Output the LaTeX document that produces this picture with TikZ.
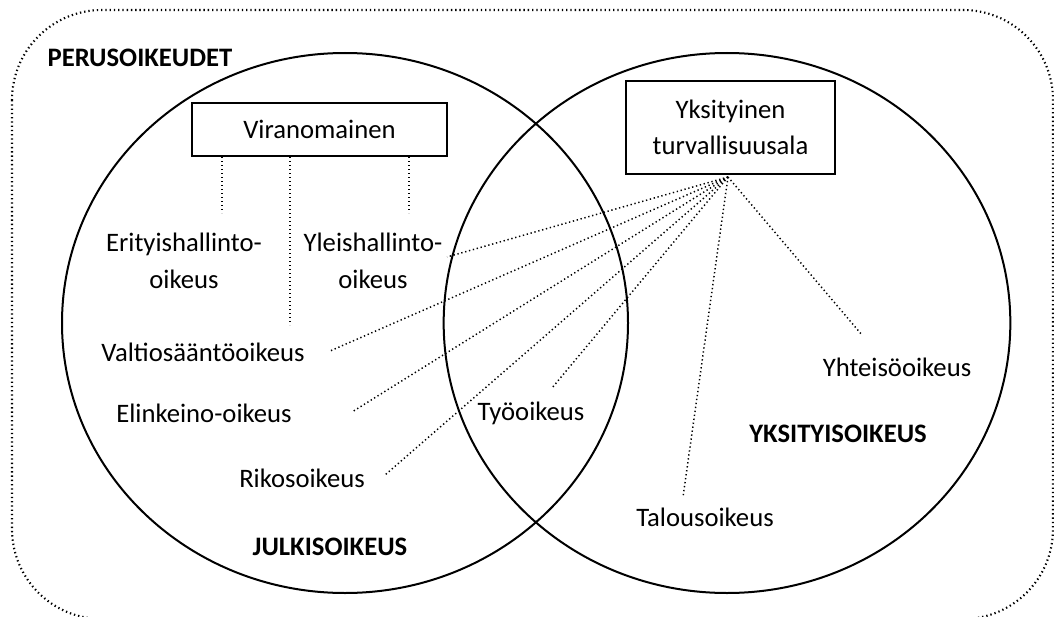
\documentclass[tikz,border=0pt]{standalone}
\usepackage{fontspec}
\setmainfont{Carlito}
\begin{document}
\begin{tikzpicture}[x=0.75pt,y=-0.75pt,
  every node/.style={font=\fontsize{20}{27.5}\selectfont, inner sep=0pt, align=center},
  heading/.style={font=\fontsize{20}{27.5}\selectfont\bfseries},
  areabox/.style={draw, line width=1.5pt},
  field/.style={line width=1.5pt},
  frame/.style={line width=1.6pt, dash pattern=on 1pt off 2.2pt, line cap=butt},
  tie/.style={line width=1.1pt, dash pattern=on 1pt off 2pt}]
\useasboundingbox (0,0) rectangle (1054,617);
\clip (0,0) rectangle (1054,617);

% outer frame of fundamental rights
\draw[frame, rounded corners=67.5pt] (12,10) rectangle (1053,619);

% the two fields of law
\draw[field] (345,323) ellipse [x radius=212.25pt, y radius=202.5pt];
\draw[field] (727,323) ellipse [x radius=212.5pt, y radius=202.5pt];

% headings
\node[heading] (perus) at (140,58) {PERUSOIKEUDET};
\node[heading] (julki) at (330,547) {JULKISOIKEUS};
\node[heading] (yksit) at (838,434) {YKSITYISOIKEUS};

% actors
\node[areabox, minimum width=191.25pt, minimum height=39.75pt] (viran) at (319.5,129.5) {Viranomainen};
\node[areabox, minimum width=156.75pt, minimum height=69.75pt] (turva) at (730.5,127.5) {Yksityinen\\turvallisuusala};

% branches of law
\node (erit) at (184,261) {Erityishallinto-\\oikeus};
\node (yleis) at (373,261) {Yleishallinto-\\oikeus};
\node (valtio) at (203,352) {Valtiosääntöoikeus};
\node (elink) at (204,413) {Elinkeino-oikeus};
\node (rikos) at (302,478) {Rikosoikeus};
\node (tyo) at (531,413) {Työoikeus};
\node (talous) at (705,517) {Talousoikeus};
\node (yhteis) at (897,367) {Yhteisöoikeus};

% links from the authority
\coordinate (v1) at (222,213);
\coordinate (v2) at (290,325);
\coordinate (v3) at (409,213);
\draw[tie] (v1 |- viran.south) -- (v1);
\draw[tie] (v2 |- viran.south) -- (v2);
\draw[tie] (v3 |- viran.south) -- (v3);

% links from the private security sector
\coordinate (fan) at (728,177);
\coordinate (t1) at (447,257);
\coordinate (t2) at (330,351);
\coordinate (t3) at (352,412);
\coordinate (t4) at (385,475);
\coordinate (t5) at (552,388);
\coordinate (t6) at (683,497);
\coordinate (t7) at (862,335);
\foreach \t in {t1,t2,t3,t4,t5,t6,t7}
  \draw[tie] (fan) -- (\t);
\end{tikzpicture}
\end{document}
